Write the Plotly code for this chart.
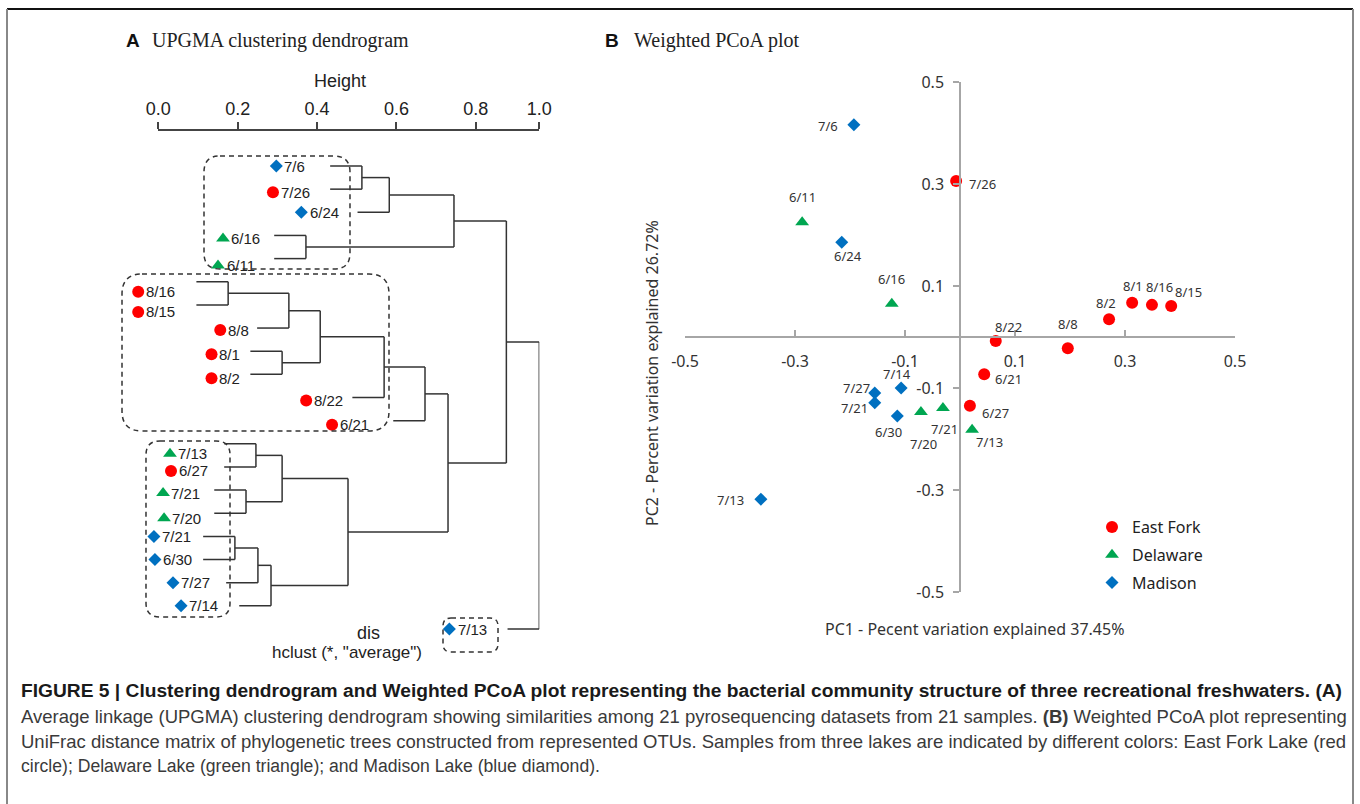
import plotly.graph_objects as go

W, H = 1360, 804

# ---------------- Panel A : UPGMA dendrogram (leaves in display order, top to bottom) ----------------
leaf_labels = ["7/6", "7/26", "6/24", "6/16", "6/11", "8/16", "8/15", "8/8", "8/1", "8/2", "8/22",
               "6/21", "7/13", "6/27", "7/21", "7/20", "7/21", "6/30", "7/27", "7/14", "7/13"]
leaf_lakes = ["Madison", "East Fork", "Madison", "Delaware", "Delaware", "East Fork", "East Fork",
              "East Fork", "East Fork", "East Fork", "East Fork", "East Fork", "Delaware", "East Fork",
              "Delaware", "Delaware", "Madison", "Madison", "Madison", "Madison", "Madison"]
# R-style merge matrix: negative = leaf number (1-based), positive = earlier merge step (1-based)
merge_left = [-6, -17, -15, -13, 2, 5, -9, 4, 1, -4, 9, 8, -1, 11, 13, 14, 16, 15, 18, 19]
merge_right = [-7, -18, -16, -14, -19, -20, -10, 3, -8, -5, 7, 6, -2, -11, -3, -12, 12, 10, 17, -21]
merge_height = [0.176, 0.193, 0.221, 0.246, 0.251, 0.284, 0.312, 0.312, 0.329, 0.372, 0.408, 0.478,
                0.513, 0.569, 0.582, 0.672, 0.730, 0.745, 0.877, 0.960]
height_ticks = [0.0, 0.2, 0.4, 0.6, 0.8, 0.96]
height_ticktext = ["0.0", "0.2", "0.4", "0.6", "0.8", "1.0"]

# ---------------- Panel B : weighted PCoA ----------------
pc_labels = ["7/26", "8/22", "8/8", "8/2", "8/1", "8/16", "8/15", "6/21", "6/27",
             "6/11", "6/16", "7/20", "7/21", "7/13",
             "7/6", "6/24", "7/14", "7/27", "7/21", "6/30", "7/13"]
pc_lakes = ["East Fork"] * 9 + ["Delaware"] * 5 + ["Madison"] * 7
pc1 = [-0.007, 0.065, 0.196, 0.271, 0.313, 0.349, 0.384, 0.044, 0.018,
       -0.287, -0.124, -0.071, -0.031, 0.022,
       -0.193, -0.215, -0.107, -0.155, -0.155, -0.114, -0.362]
pc2 = [0.306, -0.008, -0.022, 0.035, 0.067, 0.063, 0.061, -0.073, -0.135,
       0.225, 0.065, -0.147, -0.139, -0.182,
       0.416, 0.186, -0.100, -0.110, -0.129, -0.155, -0.318]
pc_ticks = [-0.5, -0.3, -0.1, 0.1, 0.3, 0.5]
pc_ticktext = ["-0.5", "-0.3", "-0.1", "0.1", "0.3", "0.5"]

lakes = ["East Fork", "Delaware", "Madison"]

# ---------------- styles ----------------
lake_color = {"East Fork": "#FF0000", "Delaware": "#00A651", "Madison": "#0070C0"}
lake_symbol = {"East Fork": "circle", "Delaware": "triangle-up", "Madison": "diamond"}
lake_size = {"East Fork": 12, "Delaware": 12, "Madison": 10}
# label placement (pixels) for the dendrogram leaf labels: gap to leaf line, vertical nudge
leaf_label_gap = [23, 18, 17, 12, 17, 19, 19, 6, 8, 8, 7, 22, 15, 14, 12, 11, 10, 9, 14, 19, 19]
leaf_label_dy = [0, 3, 0, 3, 7, 10, 7, 2, 3, 4, 3, 4, 10, 4, 3, 5, 0, 0, 0, 0, 0]
# label offsets (pixels, dx right, dy down) for the PCoA point labels
pc_label_off = [(26, 3), (13, -14), (0, -24), (-3, -16), (1, -17), (8, -18), (17, -14), (24, 5), (26, 7),
                (0, -25), (0, -25), (3, 32), (2, 21), (17, 12),
                (-26, 1), (6, 14), (-4, -14), (-18, -5), (-20, 5), (-9, 16), (-30, 1)]


def px(x):
    return x / W


def py(y):
    return 1 - y / H


# dendrogram geometry
D_X0, D_X1 = 158.3, 539.3           # pixel positions of height 0 and last tick
D_UNIT = (D_X1 - D_X0) / height_ticks[-1]   # pixels per height unit
LEAF_Y0, LEAF_DY = 166.0, 23.15      # pixel y of first leaf and spacing
HANG = 0.08

n_leaf = len(leaf_labels)
node_y = {}


def child_y(c):
    return float(-c - 1) if c < 0 else node_y[c]


xs, ys = [], []
for j, (l, r, h) in enumerate(zip(merge_left, merge_right, merge_height), start=1):
    yl, yr = child_y(l), child_y(r)
    node_y[j] = (yl + yr) / 2
    xs += [h, h, None]
    ys += [yl, yr, None]
    for c, cy in ((l, yl), (r, yr)):
        start = h - HANG if c < 0 else merge_height[c - 1]
        xs += [start, h, None]
        ys += [cy, cy, None]

# leaf start positions (where each leaf's hanging line begins)
leaf_start = [0.0] * n_leaf
for l, r, h in zip(merge_left, merge_right, merge_height):
    for c in (l, r):
        if c < 0:
            leaf_start[-c - 1] = h - HANG

char_w = {"/": 0.278}


def text_w(s, size):
    return sum(char_w.get(ch, 0.556) for ch in s) * size


fig = go.Figure()

# tree lines on the visible "Height" axis
fig.add_trace(go.Scatter(x=xs, y=ys, mode="lines", xaxis="x", yaxis="y",
                         line=dict(color="#333333", width=1.5), hoverinfo="skip", showlegend=False))

annotations = []
for lake in lakes:
    mx, my = [], []
    for i in range(n_leaf):
        if leaf_lakes[i] != lake:
            continue
        right = leaf_start[i] - leaf_label_gap[i] / D_UNIT
        yy = i + leaf_label_dy[i] / LEAF_DY
        left = right - text_w(leaf_labels[i], 15) / D_UNIT
        mx.append(left - 10 / D_UNIT)
        my.append(yy)
        annotations.append(dict(x=right, y=yy, xref="x", yref="y", text=leaf_labels[i],
                                xanchor="right", yanchor="middle", showarrow=False,
                                font=dict(family="Liberation Sans, Arial", size=15, color="#222222")))
    # leaf symbols on a full-width twin of the Height axis (same scale)
    fig.add_trace(go.Scatter(x=mx, y=my, mode="markers", xaxis="x3", yaxis="y", cliponaxis=False,
                             marker=dict(symbol=lake_symbol[lake], color=lake_color[lake],
                                         size=lake_size[lake]),
                             hoverinfo="skip", showlegend=False))

# PCoA traces
for lake in lakes:
    idx = [k for k, lk in enumerate(pc_lakes) if lk == lake]
    fig.add_trace(go.Scatter(x=[pc1[k] for k in idx], y=[pc2[k] for k in idx], mode="markers",
                             xaxis="x2", yaxis="y2", cliponaxis=False, name=lake, legendgroup=lake,
                             marker=dict(symbol=lake_symbol[lake], color=lake_color[lake],
                                         size=lake_size[lake]),
                             text=[pc_labels[k] for k in idx],
                             hovertemplate="%{text}<br>PC1 %{x}<br>PC2 %{y}<extra>" + lake + "</extra>"))
for k, lab in enumerate(pc_labels):
    dx, dy = pc_label_off[k]
    annotations.append(dict(x=pc1[k], y=pc2[k], xref="x2", yref="y2", text=lab, showarrow=False,
                            xshift=dx, yshift=-dy, xanchor="center", yanchor="middle",
                            font=dict(family="Noto Sans", size=13, color="#333333")))


# texts in paper space
def ptext(x, y, text, size, family, color="#222222", anchor="center", angle=0):
    annotations.append(dict(x=px(x), y=py(y), xref="paper", yref="paper", text=text, showarrow=False,
                            xanchor=anchor, yanchor="middle", textangle=angle,
                            font=dict(family=family, size=size, color=color)))


ptext(124, 40, "<b>A</b>", 19, "Liberation Sans, Arial", "#111111", "left")
ptext(150, 40, "UPGMA clustering dendrogram", 20, "Liberation Serif, Times New Roman", "#222222", "left")
ptext(603, 40, "<b>B</b>", 19, "Liberation Sans, Arial", "#111111", "left")
ptext(632, 40, "Weighted PCoA plot", 20, "Liberation Serif, Times New Roman", "#222222", "left")
ptext(340, 81, "Height", 18, "Liberation Sans, Arial")
ptext(368, 633, "dis", 18, "Liberation Sans, Arial")
ptext(347, 652, 'hclust (*, "average")', 17, "Liberation Sans, Arial")
ptext(823, 629, "PC1 - Pecent variation explained 37.45%", 16, "Noto Sans", "#333333", "left")
ptext(652, 373, "PC2 - Percent variation explained 26.72%", 16, "Noto Sans", "#333333", "center", -90)

cap_font = "Liberation Sans, Arial"
ptext(19, 690, "<b>FIGURE 5 | Clustering dendrogram and Weighted PCoA plot representing the bacterial community "
      "structure of three recreational freshwaters. (A)</b>", 19.2, cap_font, "#1a1a1a", "left")
ptext(19, 716, "Average linkage (UPGMA) clustering dendrogram showing similarities among 21 pyrosequencing "
      "datasets from 21 samples. <b>(B)</b> Weighted PCoA plot representing", 18.5, cap_font, "#3a3a3a", "left")
ptext(19, 741, "UniFrac distance matrix of phylogenetic trees constructed from represented OTUs. Samples from "
      "three lakes are indicated by different colors: East Fork Lake (red", 18.5, cap_font, "#3a3a3a", "left")
ptext(19, 766, "circle); Delaware Lake (green triangle); and Madison Lake (blue diamond).", 17.6, cap_font,
      "#3a3a3a", "left")

# shapes: frame + dashed rounded boxes
shapes = [
    dict(type="line", xref="paper", yref="paper", x0=px(7), x1=px(1353), y0=py(9), y1=py(9),
         line=dict(color="#111111", width=2)),
    dict(type="line", xref="paper", yref="paper", x0=px(7), x1=px(7), y0=py(9), y1=py(804),
         line=dict(color="#888888", width=2)),
    dict(type="line", xref="paper", yref="paper", x0=px(1353), x1=px(1353), y0=py(9), y1=py(804),
         line=dict(color="#888888", width=2)),
]


def rounded(x0, y0, x1, y1, r):
    p = [("M", x0 + r, y0), ("L", x1 - r, y0), ("Q", x1, y0, x1, y0 + r), ("L", x1, y1 - r),
         ("Q", x1, y1, x1 - r, y1), ("L", x0 + r, y1), ("Q", x0, y1, x0, y1 - r), ("L", x0, y0 + r),
         ("Q", x0, y0, x0 + r, y0)]
    out = []
    for seg in p:
        cmd, vals = seg[0], seg[1:]
        pts = []
        for a in range(0, len(vals), 2):
            pts.append(f"{px(vals[a]):.5f},{py(vals[a + 1]):.5f}")
        out.append(cmd + " " + " ".join(pts))
    return " ".join(out) + " Z"


for box in [(204, 156, 350, 269, 16), (122, 274, 389, 431, 20), (146, 441, 230, 617, 14),
            (443, 618, 498, 652, 8)]:
    shapes.append(dict(type="path", xref="paper", yref="paper", path=rounded(*box),
                       line=dict(color="#333333", width=1.5, dash="5px,4px")))

axis_gray = "#A6A6A6"
fig.update_layout(
    template="none",
    width=W, height=H, margin=dict(l=0, r=0, t=0, b=0, pad=0, autoexpand=False),
    paper_bgcolor="white", plot_bgcolor="rgba(0,0,0,0)",
    xaxis=dict(domain=[px(D_X0), px(D_X1)], range=[0, height_ticks[-1]], side="top", anchor="free",
               position=py(130), showline=True, linecolor="#444444", linewidth=1.5, ticks="outside",
               ticklen=7, tickwidth=1.5, tickcolor="#444444", tickvals=height_ticks,
               ticktext=height_ticktext, showgrid=False, zeroline=False, automargin=False,
               tickfont=dict(family="Liberation Sans, Arial", size=18, color="#222222")),
    xaxis3=dict(domain=[0, 1], range=[-D_X0 / D_UNIT, (W - D_X0) / D_UNIT], visible=False,
                anchor="y", automargin=False),
    yaxis=dict(domain=[0, 1], range=[(H - LEAF_Y0) / LEAF_DY, -LEAF_Y0 / LEAF_DY], visible=False,
               automargin=False),
    xaxis2=dict(domain=[px(685), px(1235)], range=[-0.5, 0.5], anchor="free", position=py(337),
                showline=True, linecolor=axis_gray, linewidth=1.5, ticks="inside", ticklen=6,
                tickcolor=axis_gray, tickwidth=1.5, tickvals=pc_ticks, ticktext=pc_ticktext,
                showgrid=False, zeroline=False, ticklabelstandoff=10, automargin=False,
                tickfont=dict(family="Noto Sans", size=16, color="#333333")),
    yaxis2=dict(domain=[py(592), py(82)], range=[-0.5, 0.5], anchor="free", position=px(960),
                showline=True, linecolor=axis_gray, linewidth=1.5, ticks="outside", ticklen=6,
                tickcolor=axis_gray, tickwidth=1.5, tickvals=pc_ticks, ticktext=pc_ticktext,
                showgrid=False, zeroline=False, ticklabelstandoff=6, automargin=False,
                tickfont=dict(family="Noto Sans", size=16, color="#333333")),
    legend=dict(x=px(1092), y=py(510), xanchor="left", yanchor="top", bgcolor="rgba(0,0,0,0)",
                font=dict(family="Noto Sans", size=16, color="#222222"), tracegroupgap=4,
                itemsizing="trace", borderwidth=0),
    annotations=annotations, shapes=shapes,
)

fig.write_html("out.html", config={"displayModeBar": False},
               post_script="document.body.style.margin='0px';document.body.style.overflow='hidden';")
